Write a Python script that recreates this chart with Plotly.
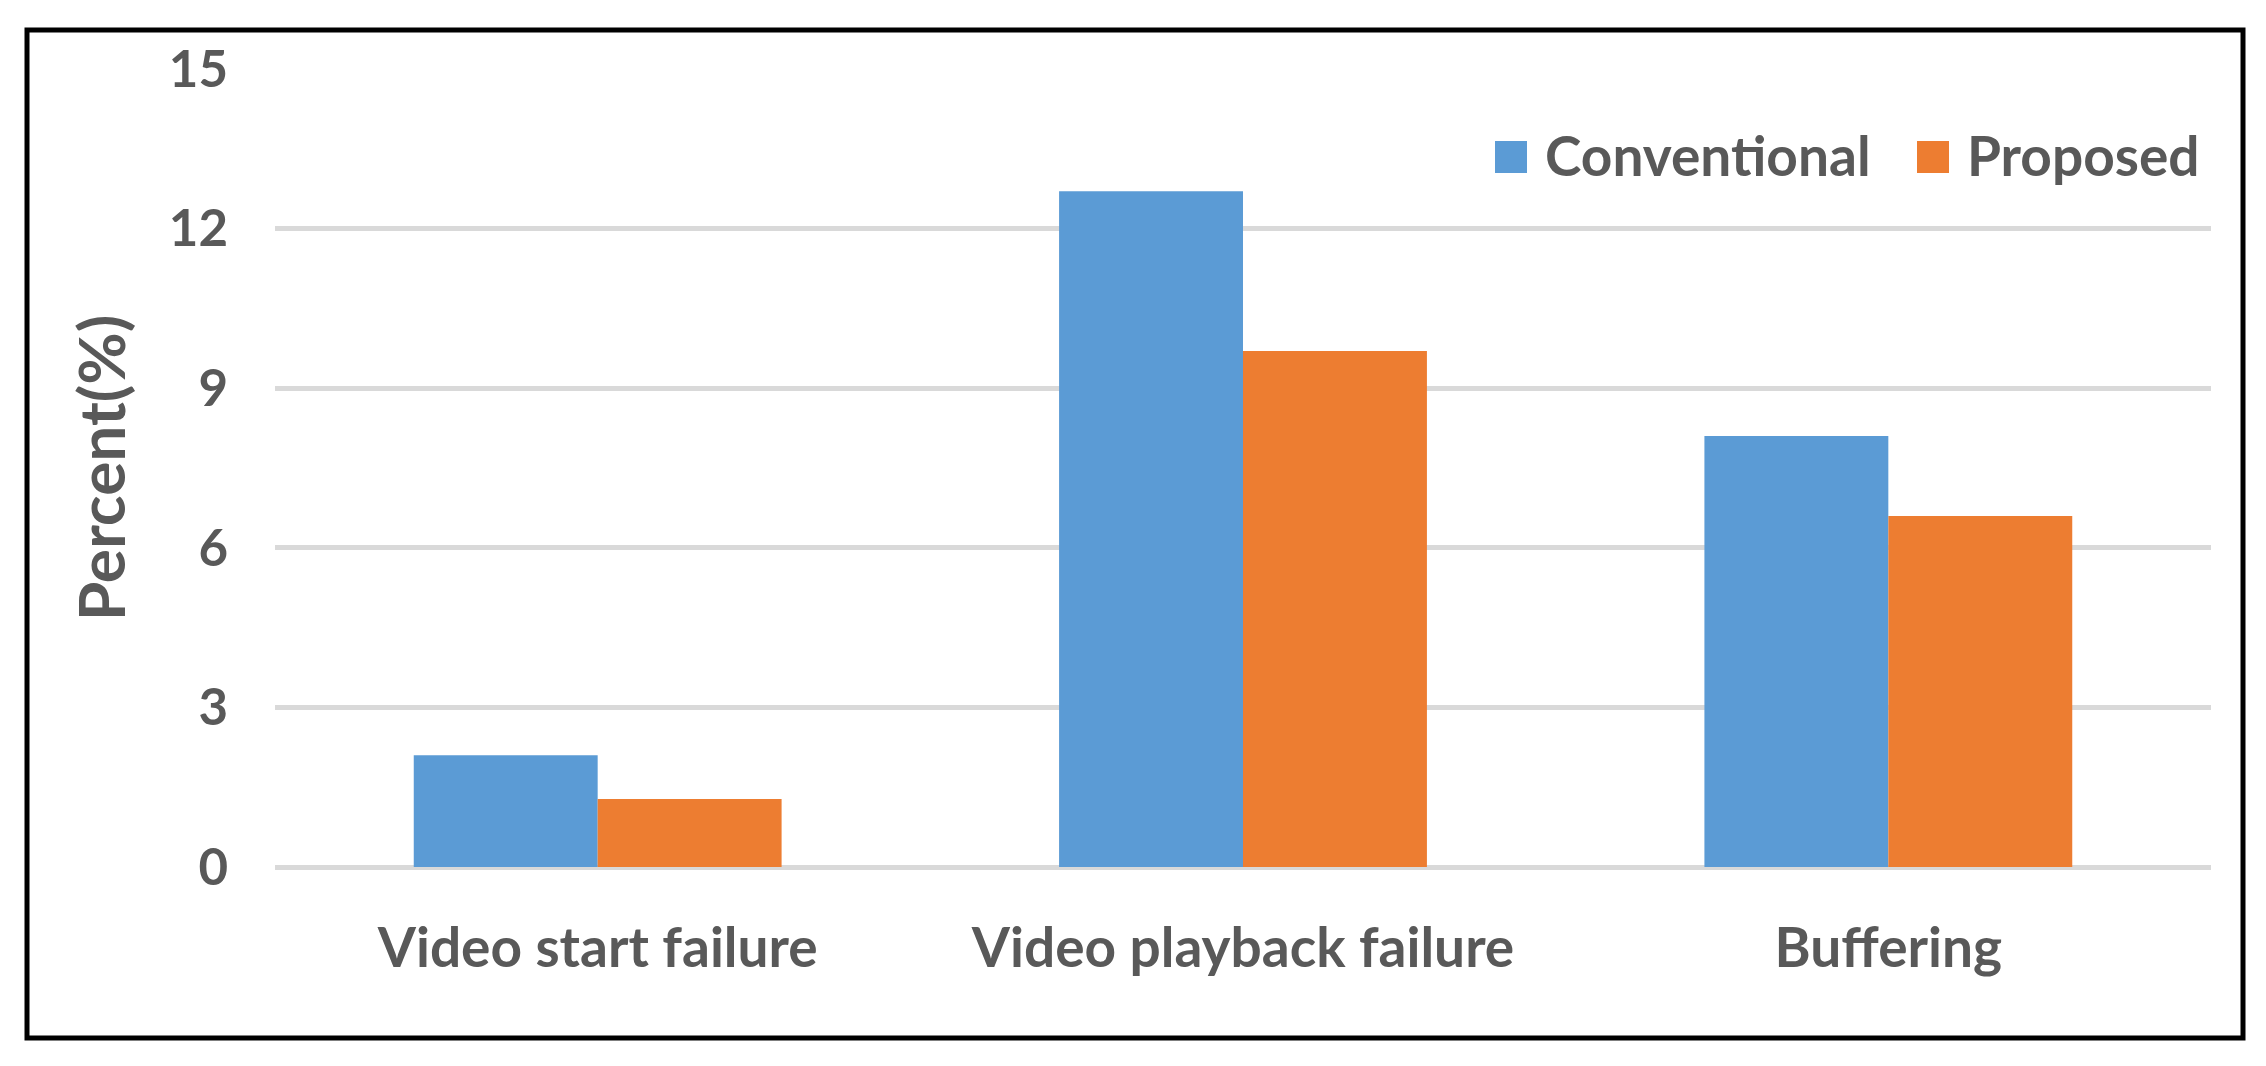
import plotly.graph_objects as go

categories = ['Video start failure', 'Video playback failure', 'Buffering']
conventional = [2.1, 12.7, 8.1]
proposed = [1.28, 9.7, 6.6]
series_names = ['Conventional', 'Proposed']
colors = ['#5B9BD5', '#ED7D31']
y_ticks = [0, 3, 6, 9, 12, 15]

# the page body adds an 8px margin, so shrink the figure by that much
OFF = 8
W, H = 2266 - OFF, 1066 - OFF
# plot area, in page pixels
L, R, T, B = 275, 2211, 69, 867
pw, ph = R - L, B - T


def px_x(x):
    return (x - L) / pw


def px_y(y):
    return (B - y) / ph


font = dict(family='Lato', size=51, color='#595959', weight='bold')
big_font = dict(font, size=55)

fig = go.Figure()
for name, vals, c in zip(series_names, [conventional, proposed], colors):
    fig.add_trace(go.Bar(
        name=name,
        x=categories,
        y=vals,
        marker=dict(color=c, line=dict(width=0)),
        showlegend=False,
    ))

# legend drawn by hand so the squares match the size in the original
legend_sq = [1495, 1917]
legend_txt = [1543, 1965]
for name, c, sx, tx in zip(series_names, colors, legend_sq, legend_txt):
    fig.add_shape(type='rect', xref='paper', yref='paper',
                  x0=px_x(sx), x1=px_x(sx + 32), y0=px_y(173), y1=px_y(141),
                  fillcolor=c, line=dict(width=0))
    fig.add_annotation(text=name, xref='paper', yref='paper',
                       x=px_x(tx), y=px_y(155), xanchor='left', yanchor='middle',
                       showarrow=False, font=big_font)

# black frame round the whole figure
fig.add_shape(type='rect', xref='paper', yref='paper',
              x0=px_x(27), x1=px_x(2243), y0=px_y(1038), y1=px_y(30),
              line=dict(color='black', width=5), fillcolor='rgba(0,0,0,0)')

fig.update_layout(
    width=W, height=H,
    margin=dict(l=L - OFF, r=W - (R - OFF), t=T - OFF, b=H - (B - OFF),
                autoexpand=False),
    paper_bgcolor='white',
    plot_bgcolor='white',
    barmode='group',
    bargap=0.43,
    bargroupgap=0,
    font=font,
)
fig.update_xaxes(
    showgrid=False, showline=False, zeroline=False,
    tickfont=big_font, ticklabelstandoff=44,
)
fig.update_yaxes(
    range=[0, 15], tickvals=y_ticks, ticktext=[str(v) for v in y_ticks],
    showgrid=True, gridcolor='#D9D9D9', gridwidth=5,
    zeroline=True, zerolinecolor='#D9D9D9', zerolinewidth=5,
    showline=False, tickfont=font, ticklabelstandoff=46,
    title=dict(text='Percent(%)', font=dict(font, size=64), standoff=22),
    automargin=False,
)

fig.write_html('out.html')
